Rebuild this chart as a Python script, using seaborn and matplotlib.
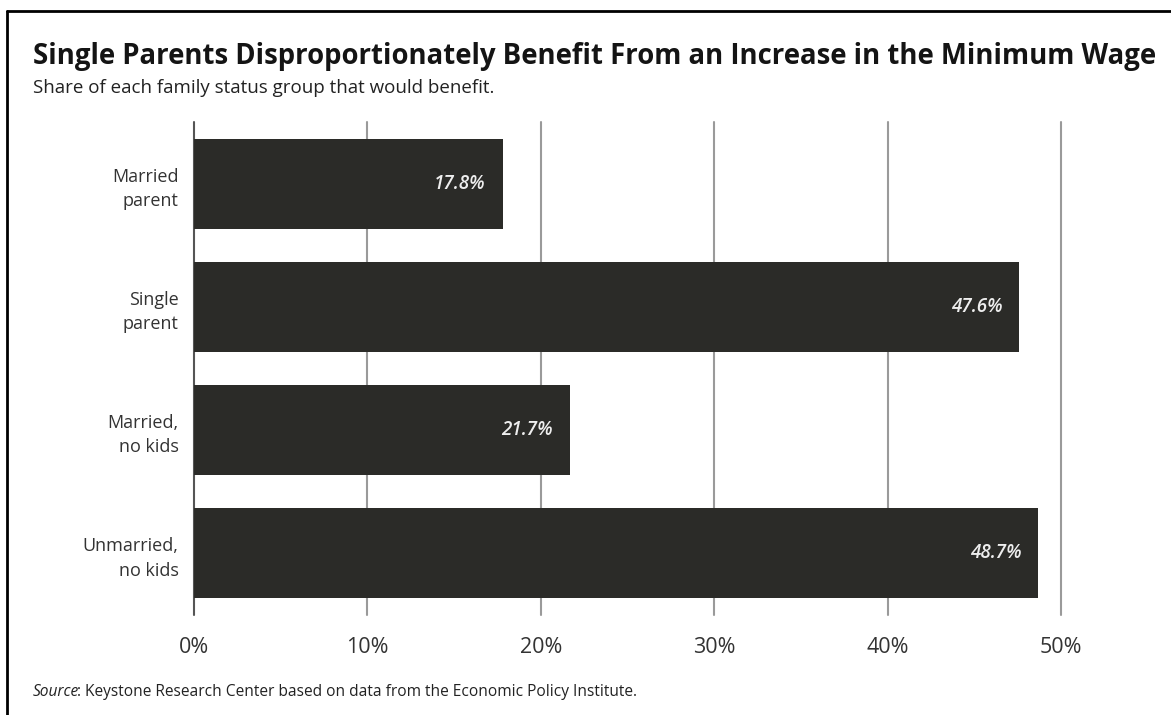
import matplotlib
matplotlib.use("Agg")
import matplotlib.pyplot as plt
from matplotlib.lines import Line2D
import seaborn as sns
import pandas as pd

# Data
categories = ["Married\nparent", "Single\nparent", "Married,\nno kids", "Unmarried,\nno kids"]
shares = [17.8, 47.6, 21.7, 48.7]
x_ticks = [0, 10, 20, 30, 40, 50]
x_tick_labels = ["0%", "10%", "20%", "30%", "40%", "50%"]

title = "Single Parents Disproportionately Benefit From an Increase in the Minimum Wage"
subtitle = "Share of each family status group that would benefit."
source_label = "Source"
source_rest = ": Keystone Research Center based on data from the Economic Policy Institute."

df = pd.DataFrame({"group": categories, "share": shares})

sns.set_theme(style="white")
FONT = ["Open Sans", "DejaVu Sans"]
plt.rcParams["font.family"] = FONT

W, H = 1171, 715
fig = plt.figure(figsize=(W / 100, H / 100), dpi=100)
fig.patch.set_facecolor("white")

left, right = 194 / W, 1061 / W
top, bottom = 1 - 122 / H, 1 - 615 / H
ax = fig.add_axes([left, bottom, right - left, top - bottom])

sns.barplot(data=df, x="share", y="group", orient="h", color="#2b2b28",
            saturation=1, width=0.73, ax=ax, zorder=3)
for p in ax.patches:
    p.set_edgecolor("none")

ax.set_xlim(0, 50)
ax.set_ylim(3.5, -0.5)

# vertical gridlines
for t in x_ticks:
    ax.axvline(t, color="#555555" if t == 0 else "#9a9a9a", lw=1.5,
               zorder=1, clip_on=False)

ax.set_xticks(x_ticks)
ax.set_xticklabels(x_tick_labels, fontsize=15.5, color="#333333")
ax.tick_params(axis="x", length=0, pad=16)
ax.tick_params(axis="y", length=0, pad=11)
for lbl in ax.get_yticklabels():
    lbl.set_fontsize(13)
    lbl.set_color("#333333")
    lbl.set_horizontalalignment("right")
    lbl.set_linespacing(1.45)
ax.set_xlabel("")
ax.set_ylabel("")
for s in ax.spines.values():
    s.set_visible(False)
ax.set_facecolor("none")

# value labels inside bar ends
for i, v in enumerate(shares):
    ax.annotate(f"{v:.1f}%", xy=(v, i), xytext=(-17, 0), textcoords="offset pixels",
                ha="right", va="center", color="#eeeeee", fontsize=13.5,
                style="italic", fontweight="semibold", zorder=4)

# titles
fig.text(33 / W, 1 - 64 / H, title, fontsize=19.8, fontweight="bold",
         color="#141414", ha="left", va="baseline")
fig.text(33 / W, 1 - 93 / H, subtitle, fontsize=13.5, color="#222222",
         ha="left", va="baseline")

# source line
src = fig.text(33 / W, 1 - 696 / H, source_label, fontsize=11.2, style="italic",
               color="#222222", ha="left", va="baseline")
ax.annotate(source_rest, xy=(1, 0), xycoords=src, xytext=(-2, 0),
            textcoords="offset pixels", ha="left", va="bottom",
            fontsize=11.2, color="#222222", annotation_clip=False)

# frame lines along top and left
fig.add_artist(Line2D([7 / W, 1], [1 - 11 / H, 1 - 11 / H], transform=fig.transFigure,
                      color="black", lw=2))
fig.add_artist(Line2D([7 / W, 7 / W], [0, 1 - 11 / H], transform=fig.transFigure,
                      color="black", lw=2))

fig.savefig("out.png", dpi=100, facecolor="white")
